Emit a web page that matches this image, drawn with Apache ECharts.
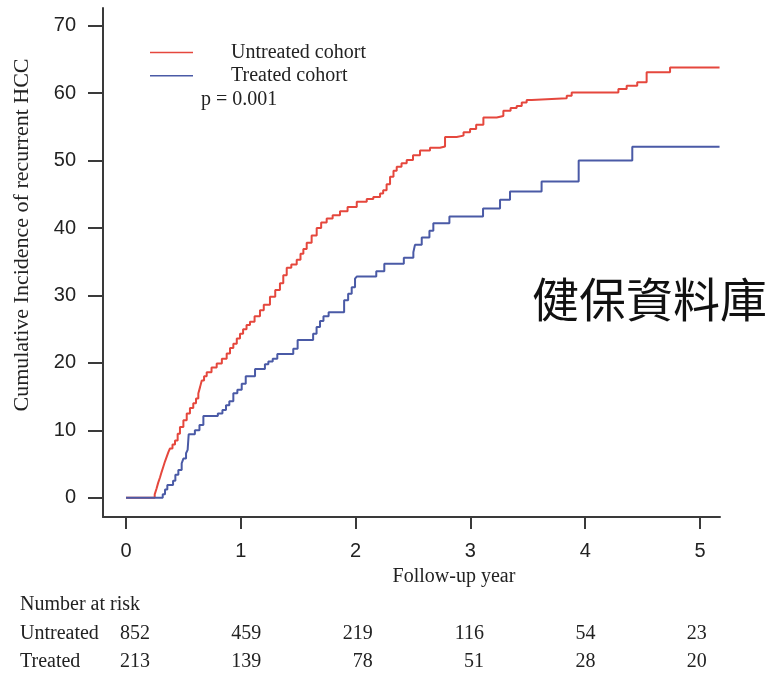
<!DOCTYPE html>
<html>
<head>
<meta charset="utf-8">
<script src="https://cdn.jsdelivr.net/npm/echarts@6/dist/echarts.min.js"></script>
<style>
html,body{margin:0;padding:0;background:#fff;}
#chart{width:779px;height:675px;}
</style>
</head>
<body>
<div id="chart"></div>
<script>
// ---- data ----
const untreatedTime = [0, 0.25, 0.267, 0.28, 0.296, 0.31, 0.325, 0.34, 0.355, 0.37, 0.383, 0.405, 0.427, 0.45, 0.47, 0.5, 0.529, 0.557, 0.586, 0.61, 0.63, 0.645, 0.66, 0.68, 0.703, 0.745, 0.79, 0.835, 0.877, 0.906, 0.935, 0.965, 0.993, 1.02, 1.05, 1.08, 1.12, 1.167, 1.2, 1.254, 1.3, 1.341, 1.37, 1.4, 1.44, 1.487, 1.52, 1.545, 1.574, 1.617, 1.661, 1.7, 1.748, 1.8, 1.864, 1.93, 2.01, 2.097, 2.154, 2.213, 2.24, 2.27, 2.3, 2.33, 2.358, 2.4, 2.445, 2.5, 2.561, 2.648, 2.735, 2.779, 2.88, 2.94, 2.997, 3.05, 3.113, 3.229, 3.287, 3.35, 3.403, 3.447, 3.49, 3.534, 3.839, 3.882, 4.289, 4.361, 4.453, 4.535, 4.739, 5.17];
const untreatedPct  = [0, 0.5, 1.4, 2.2, 3.0, 3.8, 4.6, 5.4, 6.1, 6.8, 7.3, 7.9, 8.5, 9.5, 10.5, 11.5, 12.5, 13.3, 14.0, 14.7, 15.45, 16.4, 17.4, 18.0, 18.6, 19.3, 19.9, 20.6, 21.4, 22.2, 22.85, 23.6, 24.3, 25.0, 25.6, 26.1, 26.9, 27.8, 28.6, 29.8, 30.8, 31.8, 33.0, 34.1, 34.6, 35.3, 36.2, 36.9, 37.8, 38.9, 40.0, 40.8, 41.4, 41.9, 42.5, 43.1, 43.9, 44.3, 44.6, 45.1, 45.6, 46.5, 47.6, 48.5, 49.1, 49.6, 50.1, 50.8, 51.5, 51.9, 52.1, 53.5, 53.7, 54.2, 54.7, 55.3, 56.4, 56.6, 57.4, 57.8, 58.1, 58.6, 59.0, 59.25, 59.6, 60.1, 60.6, 61.1, 61.6, 63.1, 63.8, 63.8];
const treatedTime = [0, 0.32, 0.34, 0.36, 0.41, 0.43, 0.456, 0.485, 0.5, 0.523, 0.537, 0.546, 0.6, 0.64, 0.674, 0.8, 0.84, 0.871, 0.9, 0.935, 0.97, 1.008, 1.043, 1.124, 1.21, 1.24, 1.278, 1.318, 1.457, 1.495, 1.63, 1.66, 1.69, 1.72, 1.765, 1.9, 1.935, 1.966, 1.995, 2.01, 2.18, 2.25, 2.42, 2.503, 2.517, 2.576, 2.643, 2.677, 2.817, 3.11, 3.258, 3.345, 3.62, 3.943, 4.41, 5.17];
const treatedPct  = [0, 0.5, 1.2, 1.9, 2.5, 3.4, 4.1, 5.1, 5.8, 6.6, 7.1, 9.4, 10.0, 10.8, 12.1, 12.5, 13.0, 13.7, 14.3, 15.5, 16.0, 16.9, 18.0, 19.1, 19.8, 20.2, 20.6, 21.3, 22.1, 23.4, 24.3, 25.3, 26.2, 26.9, 27.5, 29.3, 30.25, 31.2, 32.5, 32.8, 33.6, 34.7, 35.6, 36.4, 37.5, 38.6, 39.6, 40.7, 41.7, 42.9, 44.2, 45.4, 46.9, 50.0, 52.05, 52.05];
const xTicks = [0, 1, 2, 3, 4, 5];
const yTicks = [0, 10, 20, 30, 40, 50, 60, 70];
const riskTimes = [0, 1, 2, 3, 4, 5];
const riskUntreated = [852, 459, 219, 116, 54, 23];
const riskTreated = [213, 139, 78, 51, 28, 20];
const seriesNames = ['Untreated cohort', 'Treated cohort'];
const riskRowNames = ['Untreated', 'Treated'];

// ---- chart ----
const serif = '"Liberation Serif", "Times New Roman", serif';
const sans = '"Liberation Sans", Arial, sans-serif';
const axisColor = '#3a3a3a';
const chart = echarts.init(document.getElementById('chart'), null, {renderer: 'canvas'});

function pairs(ts, vs) { return ts.map((t, i) => [t, vs[i]]); }

chart.setOption({
  animation: false,
  backgroundColor: '#ffffff',
  grid: {left: 103, right: 59, top: 8, bottom: 158, containLabel: false},
  xAxis: {
    type: 'value', min: -0.2003, max: 5.174,
    splitLine: {show: false},
    axisLine: {show: true, onZero: false, lineStyle: {color: axisColor, width: 2}},
    axisTick: {show: true, inside: false, length: 12, customValues: xTicks, lineStyle: {color: axisColor, width: 2}},
    axisLabel: {show: true, margin: 24, customValues: xTicks, fontFamily: sans, fontSize: 20, color: '#222'}
  },
  yAxis: {
    type: 'value', min: -2.862, max: 72.63,
    splitLine: {show: false},
    axisLine: {show: true, onZero: false, lineStyle: {color: axisColor, width: 2}},
    axisTick: {show: true, inside: false, length: 15, customValues: yTicks, lineStyle: {color: axisColor, width: 2}},
    axisLabel: {show: true, margin: 27, customValues: yTicks, fontFamily: sans, fontSize: 20, color: '#222'}
  },
  legend: {
    orient: 'vertical', left: 145, top: 37.5, itemGap: 3.3,
    icon: 'rect', itemWidth: 43, itemHeight: 1.6,
    textStyle: {fontFamily: serif, fontSize: 20, color: '#222', padding: [0, 0, 0, 33]},
    data: seriesNames
  },
  series: [
    {name: seriesNames[0], type: 'line', step: 'end', showSymbol: false, data: pairs(untreatedTime, untreatedPct),
     lineStyle: {color: '#e5473d', width: 2}, itemStyle: {color: '#e5473d'}},
    {name: seriesNames[1], type: 'line', step: 'end', showSymbol: false, data: pairs(treatedTime, treatedPct),
     lineStyle: {color: '#4a5aa6', width: 2}, itemStyle: {color: '#4a5aa6'}}
  ]
});

// ---- text annotations and risk table ----
const g = [];
g.push({type: 'text', x: 201, y: 100, style: {text: 'p = 0.001', font: '20px ' + serif, fill: '#222', textAlign: 'left', textVerticalAlign: 'middle'}});
g.push({type: 'text', x: 22, y: 235, rotation: Math.PI / 2, style: {text: 'Cumulative Incidence of recurrent HCC', font: '22px ' + serif, fill: '#222', textAlign: 'center', textVerticalAlign: 'middle'}});
g.push({type: 'text', x: 454, y: 577, style: {text: 'Follow-up year', font: '20px ' + serif, fill: '#222', textAlign: 'center', textVerticalAlign: 'middle'}});
g.push({type: 'text', x: 532, y: 299, style: {text: '健保資料庫', font: '47px "Noto Sans CJK TC"', fill: '#111', textAlign: 'left', textVerticalAlign: 'middle'}});
g.push({type: 'text', x: 20, y: 605, style: {text: 'Number at risk', font: '20px ' + serif, fill: '#222', textAlign: 'left', textVerticalAlign: 'middle'}});
const rowY = [634, 662];
const rows = [riskUntreated, riskTreated];
rows.forEach((vals, r) => {
  g.push({type: 'text', x: 20, y: rowY[r], style: {text: riskRowNames[r], font: '20px ' + serif, fill: '#222', textAlign: 'left', textVerticalAlign: 'middle'}});
  vals.forEach((n, i) => {
    const px = chart.convertToPixel({xAxisIndex: 0}, riskTimes[i] * 0.97) + 24;
    g.push({type: 'text', x: px, y: rowY[r], style: {text: String(n), font: '20px ' + serif, fill: '#222', textAlign: 'right', textVerticalAlign: 'middle'}});
  });
});
chart.setOption({graphic: g});
</script>
</body>
</html>
